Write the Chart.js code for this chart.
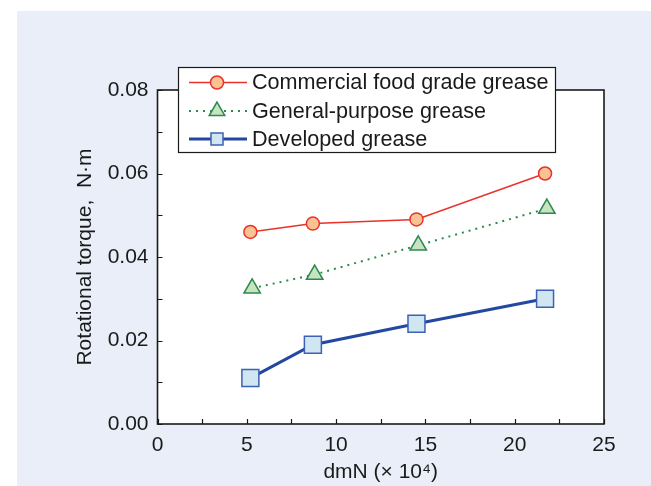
<!DOCTYPE html>
<html>
<head>
<meta charset="utf-8">
<script src="https://cdn.jsdelivr.net/npm/chart.js@4.4.1/dist/chart.umd.min.js"></script>
<style>
  html, body { margin: 0; padding: 0; background: #ffffff; }
  #wrap { position: relative; width: 651px; height: 486px; }
</style>
</head>
<body>
<div id="wrap"><canvas id="c" width="651" height="486"></canvas></div>
<script>
// Rotational torque measured at four speeds for three greases
const seriesNames = ['Commercial food grade grease', 'General-purpose grease', 'Developed grease'];
const dmnFood = [5.2, 8.7, 14.5, 21.7];
const dmnGeneral = [5.3, 8.8, 14.6, 21.8];
const dmnDeveloped = [5.2, 8.7, 14.5, 21.7];
const torqueFood = [0.046, 0.048, 0.049, 0.060];
const torqueGeneral = [0.0325, 0.0358, 0.0428, 0.0516];
const torqueDeveloped = [0.011, 0.019, 0.024, 0.030];
const xTickValues = [0, 5, 10, 15, 20, 25];
const yTickValues = [0.00, 0.02, 0.04, 0.06, 0.08];

const FONT = '"Liberation Sans", Arial, Helvetica, sans-serif';
const FONT_SIZE = 21;
const LEGEND_FONT_SIZE = 21.6;
const INK = '#1a1a1a';

const toPoints = (xs, ys) => xs.map((x, i) => ({ x: x, y: ys[i] }));

// Page panel, white plotting field, frame and inward tick marks
const framePlugin = {
  id: 'frame',
  beforeDraw(chart) {
    const ctx = chart.ctx;
    const a = chart.chartArea;
    ctx.save();
    ctx.fillStyle = '#ffffff';
    ctx.fillRect(0, 0, chart.width, chart.height);
    ctx.fillStyle = '#e9eef8';
    ctx.fillRect(17, 11, chart.width - 17, chart.height - 11);
    ctx.fillStyle = '#ffffff';
    ctx.fillRect(a.left, a.top, a.right - a.left, a.bottom - a.top);
    ctx.restore();
  },
  beforeDatasetsDraw(chart) {
    const ctx = chart.ctx;
    const a = chart.chartArea;
    const xs = chart.scales.x, ys = chart.scales.y;
    ctx.save();
    ctx.strokeStyle = INK;
    ctx.lineWidth = 1.2;
    ctx.beginPath();
    for (let v = 0; v <= 25.001; v += 2.5) {
      const px = Math.round(xs.getPixelForValue(v)) + 0.5;
      ctx.moveTo(px, a.bottom);
      ctx.lineTo(px, a.bottom - 5);
    }
    for (let v = 0; v <= 0.0801; v += 0.01) {
      const py = Math.round(ys.getPixelForValue(v)) + 0.5;
      ctx.moveTo(a.left, py);
      ctx.lineTo(a.left + 5, py);
    }
    ctx.stroke();
    ctx.lineWidth = 1.6;
    ctx.strokeRect(a.left, a.top, a.right - a.left, a.bottom - a.top);
    ctx.restore();
  }
};

function drawMarker(ctx, style, x, y, r) {
  ctx.beginPath();
  if (style === 'circle') {
    ctx.arc(x, y, r, 0, Math.PI * 2);
  } else if (style === 'triangle') {
    let rad = 0;
    ctx.moveTo(x + Math.sin(rad) * r, y - Math.cos(rad) * r);
    rad += 2 * Math.PI / 3;
    ctx.lineTo(x + Math.sin(rad) * r, y - Math.cos(rad) * r);
    rad += 2 * Math.PI / 3;
    ctx.lineTo(x + Math.sin(rad) * r, y - Math.cos(rad) * r);
    ctx.closePath();
  } else {
    const s = Math.SQRT1_2 * r;
    ctx.rect(x - s, y - s, 2 * s, 2 * s);
  }
  ctx.fill();
  ctx.stroke();
}

// Boxed legend overlapping the top edge of the plot
const legendPlugin = {
  id: 'boxLegend',
  afterDraw(chart) {
    const ctx = chart.ctx;
    const box = { x: 178.5, y: 67.5, w: 377, h: 85 };
    ctx.save();
    ctx.fillStyle = '#ffffff';
    ctx.fillRect(box.x, box.y, box.w, box.h);
    ctx.strokeStyle = INK;
    ctx.lineWidth = 1.2;
    ctx.strokeRect(box.x, box.y, box.w, box.h);
    const rowY = [82.5, 111, 139];
    const legendRadius = [6.5, 9, 8.5];
    chart.data.datasets.forEach((ds, i) => {
      const y = rowY[i];
      ctx.strokeStyle = ds.borderColor;
      ctx.lineWidth = ds.borderWidth;
      ctx.setLineDash(ds.borderDash || []);
      ctx.beginPath();
      ctx.moveTo(189, y);
      ctx.lineTo(247, y);
      ctx.stroke();
      ctx.setLineDash([]);
      ctx.fillStyle = ds.pointBackgroundColor;
      ctx.strokeStyle = ds.pointBorderColor;
      ctx.lineWidth = ds.pointBorderWidth;
      drawMarker(ctx, ds.pointStyle, 217, y, legendRadius[i]);
      ctx.fillStyle = INK;
      ctx.font = LEGEND_FONT_SIZE + 'px ' + FONT;
      ctx.textAlign = 'left';
      ctx.textBaseline = 'middle';
      ctx.fillText(ds.label, 252, y + 1);
    });
    ctx.restore();
  }
};

new Chart(document.getElementById('c'), {
  type: 'line',
  data: {
    datasets: [
      {
        label: seriesNames[0],
        data: toPoints(dmnFood, torqueFood),
        borderColor: '#e8322b',
        borderWidth: 1.5,
        pointStyle: 'circle',
        pointRadius: 6.5,
        pointBackgroundColor: '#f8c293',
        pointBorderColor: '#e8322b',
        pointBorderWidth: 1.5,
        tension: 0
      },
      {
        label: seriesNames[1],
        data: toPoints(dmnGeneral, torqueGeneral),
        borderColor: '#2e8a4c',
        borderWidth: 2,
        borderDash: [2, 5],
        pointStyle: 'triangle',
        pointRadius: 9.5,
        pointBackgroundColor: '#c6e4c4',
        pointBorderColor: '#2e8a4c',
        pointBorderWidth: 1.5,
        tension: 0
      },
      {
        label: seriesNames[2],
        data: toPoints(dmnDeveloped, torqueDeveloped),
        borderColor: '#2447a0',
        borderWidth: 3,
        pointStyle: 'rect',
        pointRadius: 12,
        pointBackgroundColor: '#d0e7f1',
        pointBorderColor: '#3b62b4',
        pointBorderWidth: 1.5,
        tension: 0
      }
    ]
  },
  options: {
    responsive: false,
    animation: false,
    events: [],
    clip: false,
    layout: { padding: { left: 0, top: 90, right: 47, bottom: 0 } },
    plugins: {
      legend: { display: false },
      tooltip: { enabled: false }
    },
    scales: {
      x: {
        type: 'linear',
        min: 0,
        max: 25,
        afterFit(scale) { scale.height = 62; },
        afterBuildTicks(scale) { scale.ticks = xTickValues.map(v => ({ value: v })); },
        grid: { display: false, drawTicks: false },
        border: { display: false },
        ticks: {
          color: INK,
          padding: 9,
          maxRotation: 0,
          font: { family: FONT, size: FONT_SIZE },
          callback: v => String(v)
        },
        title: {
          display: true,
          text: 'dmN (× 10⁴)',
          color: INK,
          font: { family: FONT, size: FONT_SIZE },
          padding: { top: 0, bottom: 1 }
        }
      },
      y: {
        type: 'linear',
        min: 0,
        max: 0.08,
        afterFit(scale) { scale.width = 157.5; },
        afterBuildTicks(scale) { scale.ticks = yTickValues.map(v => ({ value: v })); },
        grid: { display: false, drawTicks: false },
        border: { display: false },
        ticks: {
          color: INK,
          padding: 9,
          font: { family: FONT, size: FONT_SIZE },
          callback: v => Number(v).toFixed(2)
        },
        title: {
          display: true,
          text: 'Rotational torque,  N·m',
          color: INK,
          font: { family: FONT, size: FONT_SIZE },
          padding: { top: 73, bottom: 0 }
        }
      }
    }
  },
  plugins: [framePlugin, legendPlugin]
});
</script>
</body>
</html>
